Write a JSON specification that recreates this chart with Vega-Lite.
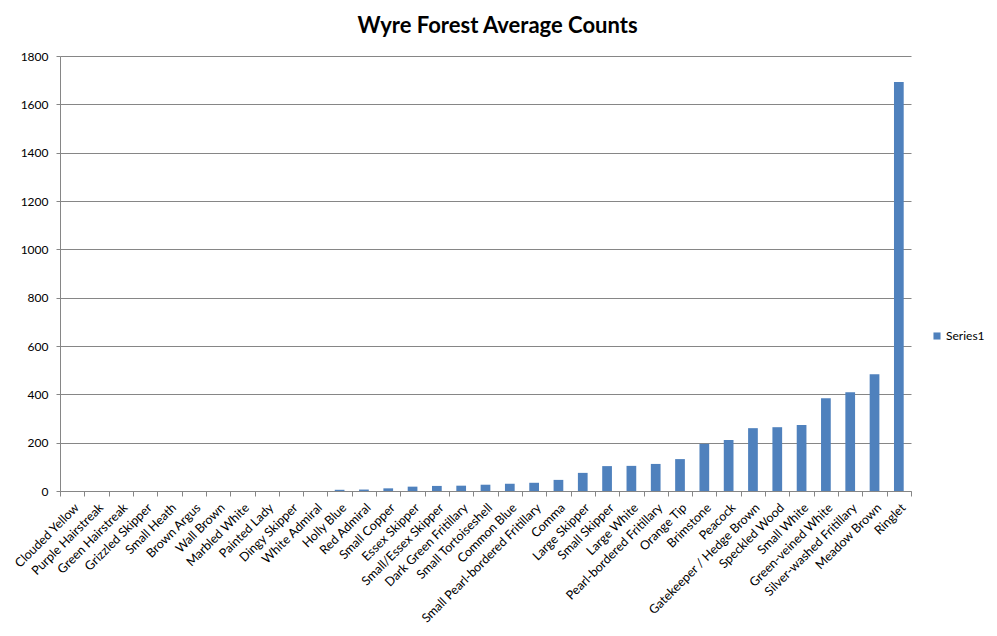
{
  "$schema": "https://vega.github.io/schema/vega-lite/v6.json",
  "autosize": {"type": "none"},
  "padding": {"left": 60, "top": 56, "right": 86, "bottom": 145},
  "width": 851,
  "height": 435,
  "background": "white",
  "title": {
    "text": "Wyre Forest Average Counts",
    "font": "Lato",
    "fontSize": 22,
    "fontWeight": "bold",
    "color": "#000000",
    "anchor": "middle",
    "dx": 12,
    "offset": 12
  },
  "data": {
    "values": [
      {"species": "Clouded Yellow", "count": 0, "series": "Series1"},
      {"species": "Purple Hairstreak", "count": 0, "series": "Series1"},
      {"species": "Green Hairstreak", "count": 0, "series": "Series1"},
      {"species": "Grizzled Skipper", "count": 0, "series": "Series1"},
      {"species": "Small Heath", "count": 0, "series": "Series1"},
      {"species": "Brown Argus", "count": 0, "series": "Series1"},
      {"species": "Wall Brown", "count": 0, "series": "Series1"},
      {"species": "Marbled White", "count": 0, "series": "Series1"},
      {"species": "Painted Lady", "count": 0, "series": "Series1"},
      {"species": "Dingy Skipper", "count": 0, "series": "Series1"},
      {"species": "White Admiral", "count": 0, "series": "Series1"},
      {"species": "Holly Blue", "count": 5, "series": "Series1"},
      {"species": "Red Admiral", "count": 6, "series": "Series1"},
      {"species": "Small Copper", "count": 11, "series": "Series1"},
      {"species": "Essex Skipper", "count": 18, "series": "Series1"},
      {"species": "Small/Essex Skipper", "count": 21, "series": "Series1"},
      {"species": "Dark Green Fritillary", "count": 22, "series": "Series1"},
      {"species": "Small Tortoiseshell", "count": 26, "series": "Series1"},
      {"species": "Common Blue", "count": 30, "series": "Series1"},
      {"species": "Small Pearl-bordered Fritillary", "count": 34, "series": "Series1"},
      {"species": "Comma", "count": 46, "series": "Series1"},
      {"species": "Large Skipper", "count": 75, "series": "Series1"},
      {"species": "Small Skipper", "count": 103, "series": "Series1"},
      {"species": "Large White", "count": 104, "series": "Series1"},
      {"species": "Pearl-bordered Fritillary", "count": 112, "series": "Series1"},
      {"species": "Orange Tip", "count": 132, "series": "Series1"},
      {"species": "Brimstone", "count": 195, "series": "Series1"},
      {"species": "Peacock", "count": 211, "series": "Series1"},
      {"species": "Gatekeeper / Hedge Brown", "count": 260, "series": "Series1"},
      {"species": "Speckled Wood", "count": 264, "series": "Series1"},
      {"species": "Small White", "count": 273, "series": "Series1"},
      {"species": "Green-veined White", "count": 384, "series": "Series1"},
      {"species": "Silver-washed Fritillary", "count": 409, "series": "Series1"},
      {"species": "Meadow Brown", "count": 483, "series": "Series1"},
      {"species": "Ringlet", "count": 1692, "series": "Series1"}
    ]
  },
  "mark": {"type": "bar", "width": {"band": 0.4}},
  "encoding": {
    "x": {
      "field": "species",
      "type": "nominal",
      "sort": null,
      "title": null,
      "scale": {"paddingInner": 0, "paddingOuter": 0},
      "axis": {
        "tickBand": "extent",
        "labelAngle": -45,
        "labelFont": "Lato",
        "labelFontSize": 12.5,
        "labelColor": "#000000",
        "labelPadding": 5,
        "labelLimit": 300,
        "domainColor": "#868686",
        "tickColor": "#868686",
        "tickSize": 5,
        "grid": false
      }
    },
    "y": {
      "field": "count",
      "type": "quantitative",
      "title": null,
      "scale": {"domain": [0, 1800], "nice": false},
      "axis": {
        "values": [0, 200, 400, 600, 800, 1000, 1200, 1400, 1600, 1800],
        "format": "d",
        "labelFont": "Lato",
        "labelFontSize": 12,
        "labelColor": "#000000",
        "labelPadding": 8,
        "domainColor": "#868686",
        "tickColor": "#868686",
        "tickSize": 4,
        "grid": true,
        "gridColor": "#868686",
        "gridOpacity": 1
      }
    },
    "color": {
      "field": "series",
      "type": "nominal",
      "scale": {"range": ["#4F81BD"]},
      "legend": {
        "title": null,
        "orient": "none",
        "legendX": 871,
        "legendY": 274,
        "symbolType": "square",
        "symbolSize": 50,
        "labelFont": "Lato",
        "labelFontSize": 12,
        "labelColor": "#000000",
        "labelOffset": 3
      }
    }
  },
  "config": {
    "view": {"stroke": null}
  }
}
